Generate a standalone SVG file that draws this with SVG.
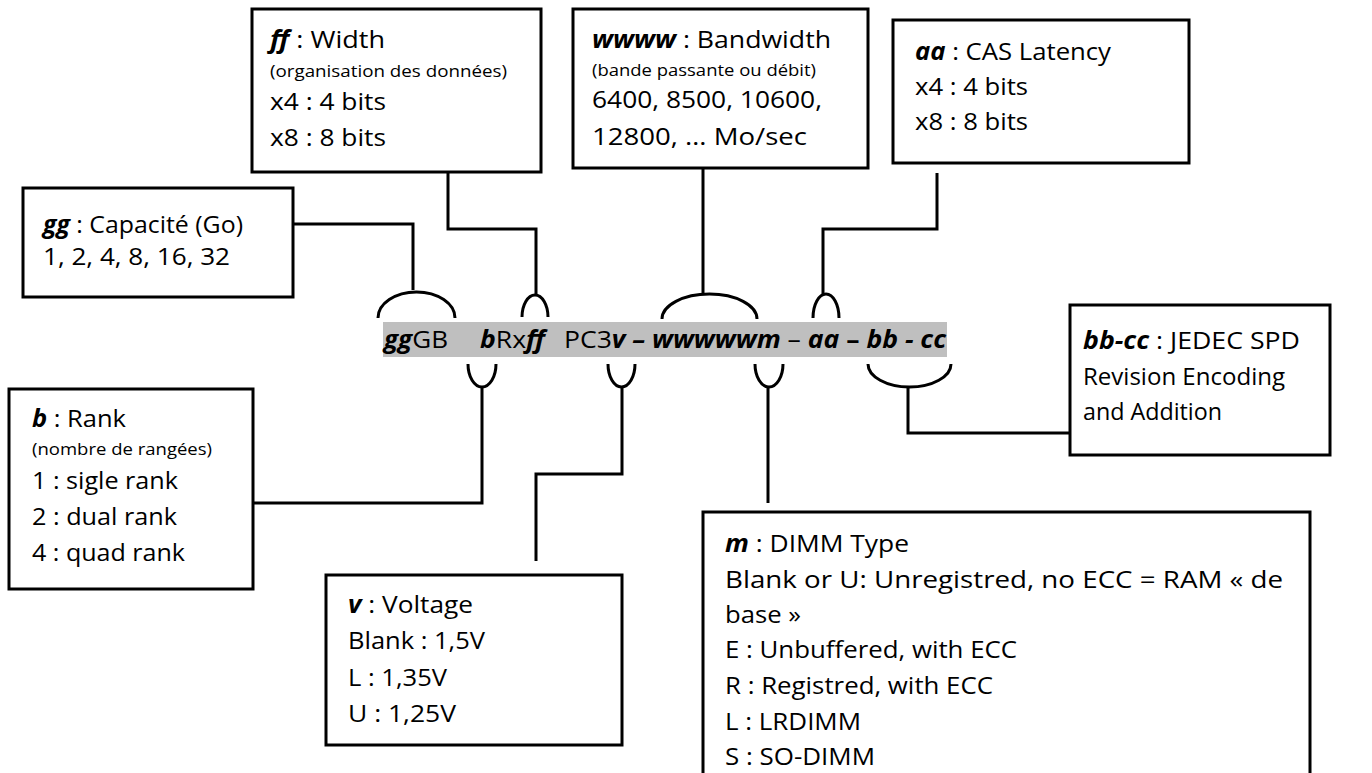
<svg xmlns="http://www.w3.org/2000/svg" width="1372" height="773" viewBox="0 0 1372 773">
<style>
.t{font-family:"Open Sans","Noto Sans","Liberation Sans",sans-serif;font-size:24.5px;fill:#000}
.s{font-size:17px}
.bi{font-weight:bold;font-style:italic}
.box{fill:#fff;stroke:#000;stroke-width:3}
.c{fill:none;stroke:#000;stroke-width:3}
</style>
<rect width="1372" height="773" fill="#fff"/>
<g id="bar">
<rect x="383" y="322" width="564" height="35" fill="#bfbfbf"/>
<text class="t" x="384" y="348" font-size="23" textLength="64" lengthAdjust="spacingAndGlyphs"><tspan class="bi">gg</tspan>GB</text>
<text class="t" x="480" y="348" font-size="23" textLength="65" lengthAdjust="spacingAndGlyphs"><tspan class="bi">b</tspan>Rx<tspan class="bi">ff</tspan></text>
<text class="t" x="564" y="348" font-size="23" textLength="382" lengthAdjust="spacingAndGlyphs">PC3<tspan class="bi">v – wwwwwm</tspan> – <tspan class="bi">aa</tspan><tspan font-weight="bold"> – </tspan><tspan class="bi">bb - cc</tspan></text>
</g>
<g id="connectors">
<path class="c" d="M378,318 A38.5,26 0 0 1 455,318"/>
<path class="c" d="M522,317 A13,22 0 0 1 548,317"/>
<path class="c" d="M662,319 A47.5,25 0 0 1 757,319"/>
<path class="c" d="M813,318 A13,24 0 0 1 839,318"/>
<path class="c" d="M468,364 A14,23 0 0 0 496,364"/>
<path class="c" d="M608,364 A13.5,23 0 0 0 635,364"/>
<path class="c" d="M755,364 A14,23 0 0 0 783,364"/>
<path class="c" d="M868,364 A41.5,23 0 0 0 951,364"/>
<path class="c" d="M293,224 H413 V290"/>
<path class="c" d="M448,172 V229 H536 V295"/>
<path class="c" d="M703,162 V294"/>
<path class="c" d="M937,173 V229 H823 V294"/>
<path class="c" d="M482,387 V503 H253"/>
<path class="c" d="M622,387 V474 H536 V561"/>
<path class="c" d="M768,387 V503"/>
<path class="c" d="M908,387 V433 H1070"/>
</g>
<g id="node-ff">
<rect class="box" x="252" y="9" width="289" height="163"/>
<text class="t" x="270" y="48" textLength="115" lengthAdjust="spacingAndGlyphs"><tspan class="bi">ff</tspan> : Width</text>
<text class="t s" x="270" y="77" textLength="237" lengthAdjust="spacingAndGlyphs">(organisation des données)</text>
<text class="t" x="270" y="110" textLength="116" lengthAdjust="spacingAndGlyphs">x4 : 4 bits</text>
<text class="t" x="270" y="146" textLength="116" lengthAdjust="spacingAndGlyphs">x8 : 8 bits</text>
</g>
<g id="node-wwww">
<rect class="box" x="573" y="9" width="295" height="159"/>
<text class="t" x="592" y="48" textLength="239" lengthAdjust="spacingAndGlyphs"><tspan class="bi">wwww</tspan> : Bandwidth</text>
<text class="t s" x="592" y="76" textLength="224" lengthAdjust="spacingAndGlyphs">(bande passante ou débit)</text>
<text class="t" x="592" y="108" textLength="230" lengthAdjust="spacingAndGlyphs">6400, 8500, 10600,</text>
<text class="t" x="592" y="145" textLength="215" lengthAdjust="spacingAndGlyphs">12800,  … Mo/sec</text>
</g>
<g id="node-aa">
<rect class="box" x="893" y="20" width="296" height="143"/>
<text class="t" x="915" y="60" textLength="196" lengthAdjust="spacingAndGlyphs"><tspan class="bi">aa</tspan> : CAS Latency</text>
<text class="t" x="915" y="95" textLength="113" lengthAdjust="spacingAndGlyphs">x4 : 4 bits</text>
<text class="t" x="915" y="130" textLength="113" lengthAdjust="spacingAndGlyphs">x8 : 8 bits</text>
</g>
<g id="node-gg">
<rect class="box" x="23" y="188" width="270" height="109"/>
<text class="t" x="43" y="233" textLength="200" lengthAdjust="spacingAndGlyphs"><tspan class="bi">gg</tspan> : Capacité (Go)</text>
<text class="t" x="43" y="265" textLength="187" lengthAdjust="spacingAndGlyphs">1, 2, 4, 8, 16, 32</text>
</g>
<g id="node-b">
<rect class="box" x="9" y="389" width="244" height="200"/>
<text class="t" x="32" y="427" textLength="94" lengthAdjust="spacingAndGlyphs"><tspan class="bi">b</tspan> : Rank</text>
<text class="t s" x="32" y="455" textLength="180" lengthAdjust="spacingAndGlyphs">(nombre de rangées)</text>
<text class="t" x="32" y="489" textLength="146" lengthAdjust="spacingAndGlyphs">1 : sigle rank</text>
<text class="t" x="32" y="525" textLength="145" lengthAdjust="spacingAndGlyphs">2 : dual rank</text>
<text class="t" x="32" y="561" textLength="153" lengthAdjust="spacingAndGlyphs">4 : quad rank</text>
</g>
<g id="node-v">
<rect class="box" x="326" y="575" width="296" height="170"/>
<text class="t" x="348" y="613" textLength="125" lengthAdjust="spacingAndGlyphs"><tspan class="bi">v</tspan> : Voltage</text>
<text class="t" x="348" y="649" textLength="137" lengthAdjust="spacingAndGlyphs">Blank : 1,5V</text>
<text class="t" x="348" y="686" textLength="99" lengthAdjust="spacingAndGlyphs">L : 1,35V</text>
<text class="t" x="348" y="722" textLength="108" lengthAdjust="spacingAndGlyphs">U : 1,25V</text>
</g>
<g id="node-m">
<rect class="box" x="703" y="512" width="607" height="290"/>
<text class="t" x="725" y="552" textLength="184" lengthAdjust="spacingAndGlyphs"><tspan class="bi">m</tspan> : DIMM Type</text>
<text class="t" x="725" y="588" textLength="558" lengthAdjust="spacingAndGlyphs">Blank or U: Unregistred, no ECC = RAM « de</text>
<text class="t" x="725" y="623" textLength="76" lengthAdjust="spacingAndGlyphs">base »</text>
<text class="t" x="725" y="658" textLength="292" lengthAdjust="spacingAndGlyphs">E : Unbuffered, with ECC</text>
<text class="t" x="725" y="694" textLength="268" lengthAdjust="spacingAndGlyphs">R : Registred, with ECC</text>
<text class="t" x="725" y="730" textLength="136" lengthAdjust="spacingAndGlyphs">L : LRDIMM</text>
<text class="t" x="725" y="765" textLength="150" lengthAdjust="spacingAndGlyphs">S : SO-DIMM</text>
</g>
<g id="node-bbcc">
<rect class="box" x="1070" y="305" width="260" height="150"/>
<text class="t" x="1083" y="349" textLength="217" lengthAdjust="spacingAndGlyphs"><tspan class="bi">bb-cc</tspan> : JEDEC SPD</text>
<text class="t" x="1083" y="385" textLength="202" lengthAdjust="spacingAndGlyphs">Revision Encoding</text>
<text class="t" x="1083" y="420" textLength="139" lengthAdjust="spacingAndGlyphs">and Addition</text>
</g>
</svg>
